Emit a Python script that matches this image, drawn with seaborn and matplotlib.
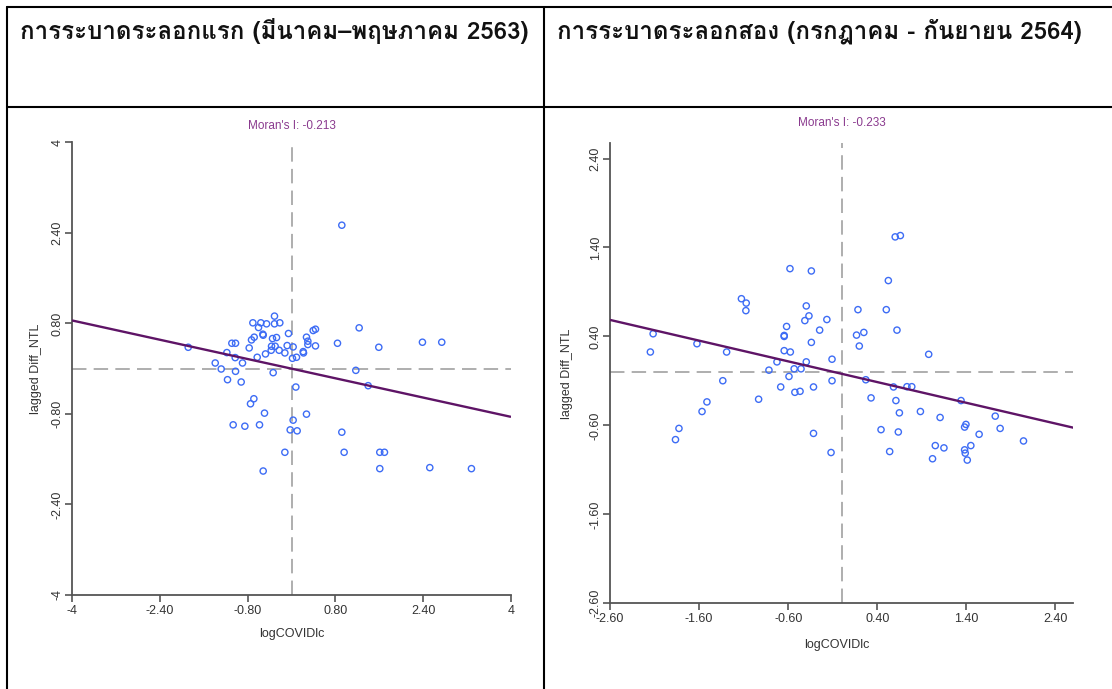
import matplotlib
matplotlib.use("Agg")
import numpy as np
import pandas as pd
import seaborn as sns
import matplotlib.pyplot as plt
from matplotlib import font_manager, ft2font
from matplotlib.lines import Line2D

# header text of the two table columns
headers = ["การระบาดระลอกแรก (มีนาคม–พฤษภาคม 2563)",
           "การระบาดระลอกสอง (กรกฎาคม - กันยายน 2564)"]

# Moran's I (slope of the regression line) and intercept per wave
moran_i = [-0.213, -0.233]
intercepts = [0.0, -0.02]

# wave 1: standardized logCOVIDlc vs lagged Diff_NTL
x1 = [0.917, 1.233, 2.386, 2.738, 1.591, 0.838, 1.172, 1.397, 0.079, 0.437,
      0.395, 0.273, 0.298, 0.298, 0.437, 0.213, 0.219, 0.091, 0.018, 0.030,
      -0.079, -0.055, -0.121, -0.225, -0.310, -0.213, -0.310, -0.273, -0.346, -0.298,
      -0.364, -0.370, -0.474, -0.625, -0.455, -0.559, -0.601, -0.704, -0.522, -0.516,
      -0.680, -0.729, -0.771, -1.020, -1.087, -1.178, -1.026, -0.893, -1.390, -1.281,
      -1.020, -1.166, -0.917, -0.334, -1.882, -0.686, -0.747, -0.492, 0.273, -1.063,
      -0.850, -0.583, 0.030, -0.024, 0.103, 0.917, -0.121, 0.959, 1.609, 1.694,
      -0.516, 1.609, 2.520, 3.279]
y1 = [2.535, 0.721, 0.467, 0.467, 0.378, 0.449, -0.030, -0.301, -0.325, 0.697,
      0.674, 0.556, 0.485, 0.426, 0.402, 0.301, 0.278, 0.201, 0.183, 0.384,
      0.408, 0.621, 0.278, 0.325, 0.928, 0.810, 0.792, 0.550, 0.532, 0.396,
      0.396, 0.325, 0.260, 0.201, 0.792, 0.810, 0.727, 0.810, 0.609, 0.591,
      0.556, 0.508, 0.366, 0.449, 0.449, 0.284, 0.195, 0.100, 0.100, -0.006,
      -0.047, -0.195, -0.236, -0.071, 0.378, -0.532, -0.621, -0.786, -0.804, -0.993,
      -1.017, -0.993, -0.910, -1.082, -1.099, -1.123, -1.478, -1.478, -1.478, -1.478,
      -1.809, -1.767, -1.749, -1.767]

# wave 2
x2 = [0.601, 0.659, -0.580, -0.340, 0.524, -1.125, -1.071, -1.075, -0.397, 0.183,
      0.501, -0.367, -0.413, -0.166, -0.618, -0.247, -0.645, -0.645, 0.167, 0.249,
      0.621, 0.198, -0.340, -2.116, -2.147, -1.624, -1.291, -0.645, -0.576, 0.977,
      -0.108, -0.726, -0.397, -0.816, -0.533, -0.456, -0.591, -1.334, -0.108, 0.271,
      -0.684, -0.316, -0.525, -0.467, 0.582, 0.733, 0.787, -0.932, -1.512, 0.330,
      0.609, 1.340, -1.567, 0.648, 0.884, 1.105, 1.724, 1.395, 1.380, -1.826,
      -1.865, -0.316, 0.442, 0.636, 1.543, 1.779, 2.041, 1.051, 1.148, 1.450,
      1.380, 1.387, 0.539, -0.119, 1.020, 1.410]
y2 = [1.519, 1.534, 1.162, 1.136, 1.028, 0.824, 0.775, 0.690, 0.743, 0.701,
      0.701, 0.631, 0.578, 0.590, 0.512, 0.471, 0.411, 0.400, 0.415, 0.445,
      0.471, 0.292, 0.333, 0.430, 0.225, 0.318, 0.225, 0.240, 0.225, 0.199,
      0.144, 0.114, 0.114, 0.021, 0.036, 0.036, -0.050, -0.098, -0.098, -0.087,
      -0.168, -0.168, -0.228, -0.217, -0.168, -0.165, -0.165, -0.306, -0.336, -0.291,
      -0.321, -0.321, -0.444, -0.459, -0.444, -0.511, -0.496, -0.589, -0.619, -0.634,
      -0.760, -0.690, -0.648, -0.674, -0.700, -0.634, -0.775, -0.827, -0.853, -0.827,
      -0.875, -0.912, -0.894, -0.905, -0.975, -0.990]

# axis limits and ticks
xlims = [(-4, 4), (-2.6, 2.6)]
ylims = [(-4, 4), (-2.6, 2.57)]
ticks1 = [-4, -2.4, -0.8, 0.8, 2.4, 4]
tick_labels1 = ["-4", "-2.40", "-0.80", "0.80", "2.40", "4"]
ticks2 = [-2.6, -1.6, -0.6, 0.4, 1.4, 2.4]
tick_labels2 = ["-2.60", "-1.60", "-0.60", "0.40", "1.40", "2.40"]


def thai_family():
    # find an installed font that has Thai glyphs
    for f in font_manager.fontManager.ttflist:
        try:
            cmap = ft2font.FT2Font(f.fname).get_charmap()
        except Exception:
            continue
        if 0x0E01 in cmap:
            return f.name
    return "DejaVu Sans"


sns.set_style("ticks")
plt.rcParams["font.family"] = ["Liberation Sans", "DejaVu Sans"]
thai = thai_family()

W, H = 1112, 689
fig = plt.figure(figsize=(W / 100, H / 100), dpi=100)
fig.patch.set_facecolor("white")


def px_rect(l, t, r, b):
    return [l / W, 1 - b / H, (r - l) / W, (b - t) / H]


# table grid
grid_kw = dict(color="black", lw=1.5, transform=fig.transFigure)
fig.add_artist(Line2D([6.7 / W, 1], [1 - 6.7 / H] * 2, **grid_kw))
fig.add_artist(Line2D([6.7 / W, 1], [1 - 107 / H] * 2, **grid_kw))
fig.add_artist(Line2D([6.7 / W] * 2, [0, 1 - 6.7 / H], **grid_kw))
fig.add_artist(Line2D([544 / W] * 2, [0, 1 - 6.7 / H], **grid_kw))

for hx, txt in zip([20, 557], headers):
    fig.text(hx / W, 1 - 39 / H, txt, family=[thai, "DejaVu Sans"],
             fontsize=17.3, fontweight="semibold", ha="left", va="baseline",
             color="#111111")

panels = [
    dict(x=x1, y=y1, rect=px_rect(72, 142.3, 511, 595), ticks=ticks1,
         labels=tick_labels1, ylab=(-0.068, 0.5), xlab=(0.5, -0.073)),
    dict(x=x2, y=y2, rect=px_rect(610, 143.4, 1073.3, 603.3), ticks=ticks2,
         labels=tick_labels2, ylab=(-0.080, 0.5), xlab=(0.49, -0.078)),
]

point_color = "#3d6cf5"
line_color = "#5e1466"
dash_color = "#a8a8a8"
axis_color = "#555555"

for i, p in enumerate(panels):
    ax = fig.add_axes(p["rect"])
    df = pd.DataFrame({"logCOVIDlc": p["x"], "lagged Diff_NTL": p["y"]})
    ax.axhline(0, color=dash_color, lw=1.3, dashes=(8, 4), zorder=1)
    ax.axvline(0, color=dash_color, lw=1.3, dashes=(8, 4), zorder=1)
    sns.scatterplot(data=df, x="logCOVIDlc", y="lagged Diff_NTL", ax=ax,
                    marker="o", s=20, facecolors="none",
                    edgecolor=point_color, linewidth=1.0, zorder=3)
    xs = np.array(xlims[i])
    ax.plot(xs, intercepts[i] + moran_i[i] * xs, color=line_color, lw=1.7,
            zorder=4, solid_capstyle="butt")
    ax.set_xlim(*xlims[i])
    ax.set_ylim(*ylims[i])
    ax.set_xticks(p["ticks"])
    ax.set_xticklabels(p["labels"])
    ax.set_yticks(p["ticks"])
    ax.set_yticklabels(p["labels"], rotation=90, va="center")
    ax.tick_params(direction="out", length=5, width=1.2, color=axis_color,
                   labelsize=9, labelcolor="#333333", pad=2)
    ax.tick_params(axis="y", pad=1)
    for side in ["top", "right"]:
        ax.spines[side].set_visible(False)
    for side in ["left", "bottom"]:
        ax.spines[side].set_color(axis_color)
        ax.spines[side].set_linewidth(1.3)
    ax.set_facecolor("none")
    ax.set_xlabel("logCOVIDlc", fontsize=9, color="#333333")
    ax.set_ylabel("lagged Diff_NTL", fontsize=9, color="#333333")
    ax.yaxis.set_label_coords(*p["ylab"])
    ax.xaxis.set_label_coords(*p["xlab"])
    ax.text(0.5, 1.035 if i == 0 else 1.045, f"Moran's I: {moran_i[i]:.3f}",
            transform=ax.transAxes, ha="center", va="center",
            fontsize=8.5, color="#8a3a8e")

fig.savefig("out.png", dpi=100, facecolor="white")
